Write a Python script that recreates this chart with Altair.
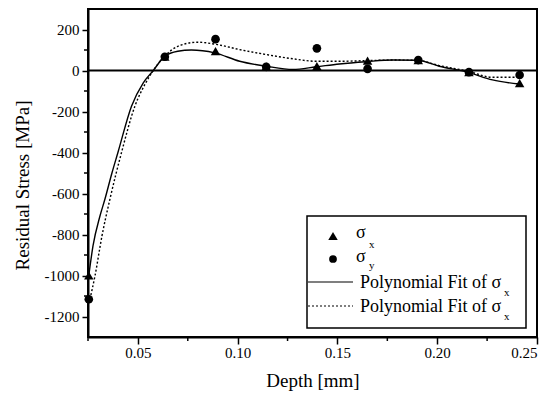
import altair as alt
import pandas as pd

# ---------------- data ----------------
depth = [0.0254, 0.0635, 0.0889, 0.1143, 0.1397, 0.1651, 0.1905, 0.2159, 0.2413]
sigma_x = [-1000, 67, 94, 20, 21, 48, 51, -8, -62]
sigma_y = [-1116, 67, 153, 18, 108, 8, 51, -8, -22]

fit_x_depth = [0.0254, 0.0275, 0.031, 0.0335, 0.037, 0.040, 0.0468, 0.0527, 0.0577,
               0.0635, 0.070, 0.0768, 0.0885, 0.101, 0.1143, 0.1277, 0.1393, 0.151,
               0.1643, 0.1777, 0.190, 0.201, 0.2152, 0.2277, 0.241]
fit_x_stress = [-1000, -856, -710, -627, -500, -400, -174, -60, 0,
                70, 94, 100, 86, 45, 21, 5, 18, 32,
                43, 51, 50, 21, -8, -46, -66]

fit_y_depth = [0.026, 0.0285, 0.032, 0.036, 0.0418, 0.0485, 0.0535, 0.0577, 0.0635,
               0.070, 0.080, 0.090, 0.101, 0.1143, 0.1277, 0.1393, 0.151, 0.1643,
               0.1777, 0.190, 0.201, 0.2152, 0.2277, 0.2377, 0.241]
fit_y_stress = [-1114, -1002, -807, -627, -400, -174, -68, 0, 70,
                118, 138, 126, 102, 78, 57, 45, 45, 48,
                51, 50, 24, -3, -33, -33, -30]

y_major = [-1200, -1000, -800, -600, -400, -200, 0, 200]
y_minor = [-1100, -900, -700, -500, -300, -100, 100]
x_major = [0.05, 0.10, 0.15, 0.20, 0.25]
x_minor = [0.025, 0.075, 0.125, 0.175, 0.225]
zero_level = [0]

legend_labels = ["σ", "σ", "Polynomial Fit of σ", "Polynomial Fit of σ"]
legend_subs = ["x", "y", "x", "x"]

x_title = "Depth [mm]"
y_title = "Residual Stress [MPa]"

FONT = "Liberation Serif"
W, H = 449, 328

# ---------------- scales / axes ----------------
xs = alt.Scale(domain=[0.025, 0.25], nice=False, zero=False)
ys = alt.Scale(domain=[-1300, 300], nice=False, zero=False)

xaxis = alt.Axis(values=x_major, format=".2f", tickSize=7, tickWidth=1.5,
                 domainWidth=2, domainColor="black", tickColor="black",
                 labelFont=FONT, labelFontSize=15, labelColor="black", labelPadding=1,
                 grid=False, title=x_title, titleFont=FONT, titleFontSize=19,
                 titleFontWeight="normal", titleColor="black",
                 titleX=W / 2, titleY=43, titleAlign="center", titleBaseline="middle")
yaxis = alt.Axis(values=y_major, labelExpr="'' + datum.value", tickSize=6, tickWidth=1.5,
                 domainWidth=2, domainColor="black", tickColor="black",
                 labelFont=FONT, labelFontSize=15, labelColor="black", labelPadding=3,
                 grid=False, title=y_title, titleFont=FONT, titleFontSize=19,
                 titleFontWeight="normal", titleColor="black", titleAngle=-90,
                 titleX=-66, titleY=176, titleAlign="center", titleBaseline="middle")


def X(f):
    return alt.X(f"{f}:Q", scale=xs, axis=xaxis, title=x_title)


def Y(f):
    return alt.Y(f"{f}:Q", scale=ys, axis=yaxis, title=y_title)


pts = pd.DataFrame({"depth": depth, "sx": sigma_x, "sy": sigma_y})
fitx = pd.DataFrame({"depth": fit_x_depth, "stress": fit_x_stress})
fity = pd.DataFrame({"depth": fit_y_depth, "stress": fit_y_stress})
one = pd.DataFrame({"k": [0]})

zero_rule = alt.Chart(pd.DataFrame({"stress": zero_level})).mark_rule(
    color="black", strokeWidth=2).encode(y=Y("stress"))

line_x = alt.Chart(fitx).mark_line(color="black", strokeWidth=1.4, interpolate="monotone").encode(
    x=X("depth"), y=Y("stress"))
line_y = alt.Chart(fity).mark_line(color="black", strokeWidth=1.4, strokeDash=[2, 2],
                                   interpolate="monotone").encode(x=X("depth"), y=Y("stress"))

tri = alt.Chart(pts).mark_point(shape="triangle-up", filled=True, color="black", size=90,
                                opacity=1).encode(x=X("depth"), y=Y("sx"))
circ = alt.Chart(pts).mark_point(shape="circle", filled=True, color="black", size=75,
                                 opacity=1).encode(x=X("depth"), y=Y("sy"))

ymin = alt.Chart(pd.DataFrame({"stress": y_minor})).mark_rule(
    color="black", strokeWidth=1.5).encode(y=Y("stress"), x=alt.value(-4), x2=alt.value(0))
xmin = alt.Chart(pd.DataFrame({"depth": x_minor})).mark_rule(
    color="black", strokeWidth=1.5).encode(x=X("depth"), y=alt.value(H), y2=alt.value(H + 4))

# ---------------- legend (custom, to allow subscripts) ----------------
box = alt.Chart(one).mark_rect(fill="white", stroke="black", strokeWidth=1.5).encode(
    x=alt.value(219), x2=alt.value(438), y=alt.value(207), y2=alt.value(319))

leg_tri = alt.Chart(one).mark_point(shape="triangle-up", filled=True, color="black", size=90,
                                    opacity=1).encode(x=alt.value(245), y=alt.value(227))
leg_circ = alt.Chart(one).mark_point(shape="circle", filled=True, color="black", size=60,
                                     opacity=1).encode(x=alt.value(245), y=alt.value(250))
leg_solid = alt.Chart(one).mark_rule(color="black", strokeWidth=1.2).encode(
    x=alt.value(220), x2=alt.value(265), y=alt.value(273))
leg_dot = alt.Chart(one).mark_rule(color="black", strokeWidth=1.2, strokeDash=[2, 2]).encode(
    x=alt.value(220), x2=alt.value(265), y=alt.value(297))

row_pos = [(268, 224, 281, 236), (268, 248, 281, 257), (272, 274, 416, 284), (272, 298, 416, 308)]
texts = []
for lab, sub, (tx, ty, sx_, sy_) in zip(legend_labels, legend_subs, row_pos):
    texts.append(alt.Chart(one).mark_text(font=FONT, fontSize=18, align="left",
                                          baseline="middle", color="black").encode(
        x=alt.value(tx), y=alt.value(ty), text=alt.value(lab)))
    texts.append(alt.Chart(one).mark_text(font=FONT, fontSize=11, align="left",
                                          baseline="middle", color="black").encode(
        x=alt.value(sx_), y=alt.value(sy_), text=alt.value(sub)))

chart = alt.layer(
    zero_rule, line_x, line_y, tri, circ, ymin, xmin,
    box, leg_tri, leg_circ, leg_solid, leg_dot, *texts
).properties(
    width=W, height=H,
    autosize=alt.AutoSizeParams(type="none"),
    padding={"left": 80, "top": 1, "right": 8, "bottom": 58},
    background="white",
).configure_view(stroke="black", strokeWidth=2)

chart.save("out.html", embed_options={"renderer": "svg", "actions": False})
